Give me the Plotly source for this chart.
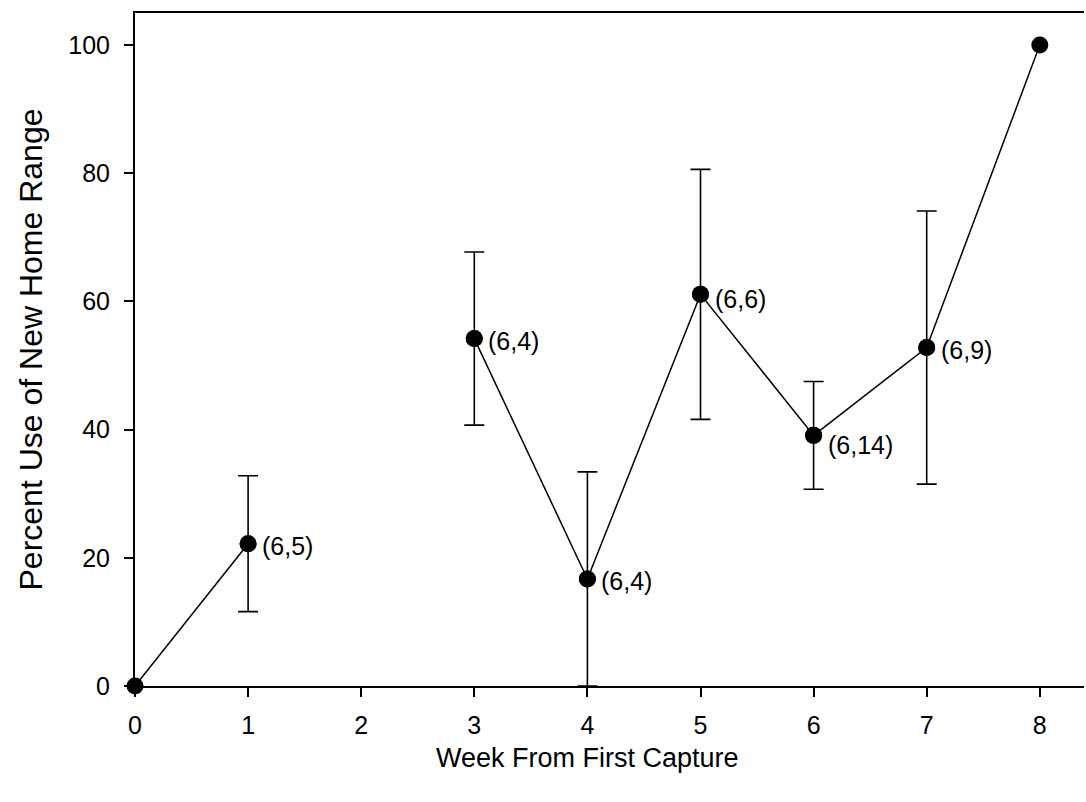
import plotly.graph_objects as go

weeks = [0, 1, 2, 3, 4, 5, 6, 7, 8]
percent_use = [0, 22.2, None, 54.2, 16.7, 61.1, 39.1, 52.8, 100]
error_half = [None, 10.6, None, 13.5, 16.7, 19.5, 8.4, 21.3, None]
point_labels = ["", "(6,5)", "", "(6,4)", "(6,4)", "(6,6)", "(6,14)", "(6,9)", ""]
label_yshift = [0, -2, 0, -2, -2, -5, -10, -2, 0]

FONT = "Liberation Sans, Arial, sans-serif"

W, H = 1086, 802
ml, mr, mt, mb = 135, 2, 13, 116
pw, ph = W - ml - mr, H - mt - mb

fig = go.Figure()

# error bars (only points that have them)
err_idx = [i for i, e in enumerate(error_half) if e is not None]
fig.add_trace(go.Scatter(
    x=[weeks[i] for i in err_idx],
    y=[percent_use[i] for i in err_idx],
    mode="markers",
    marker=dict(color="black", size=17, line=dict(width=0)),
    error_y=dict(type="data", array=[error_half[i] for i in err_idx], visible=True,
                 color="black", thickness=1.6, width=10),
    cliponaxis=False,
    showlegend=False,
))

fig.add_trace(go.Scatter(
    x=weeks, y=percent_use,
    mode="lines+markers",
    connectgaps=False,
    line=dict(color="black", width=1.5),
    marker=dict(color="black", size=17, line=dict(width=0)),
    cliponaxis=False,
    showlegend=False,
))

annotations = []
for xv, yv, lab, ys in zip(weeks, percent_use, point_labels, label_yshift):
    if lab and yv is not None:
        annotations.append(dict(
            x=xv, y=yv, xref="x", yref="y", text=lab, showarrow=False,
            xanchor="left", yanchor="middle", xshift=12, yshift=ys,
            font=dict(family=FONT, size=25, color="black"),
        ))

annotations.append(dict(
    x=4, y=-(758 - (H - mb)) / ph, xref="x", yref="paper",
    text="Week From First Capture",
    showarrow=False, xanchor="center", yanchor="middle",
    font=dict(family=FONT, size=27, color="black"),
))
annotations.append(dict(
    x=-(ml - 30) / pw, y=0.5, xref="paper", yref="paper",
    text="Percent Use of New Home Range",
    showarrow=False, textangle=-90, xanchor="center", yanchor="middle",
    font=dict(family=FONT, size=32, color="black"),
))

fig.update_layout(
    width=W, height=H,
    margin=dict(l=ml, r=mr, t=mt, b=mb, pad=0),
    plot_bgcolor="white", paper_bgcolor="white",
    font=dict(family=FONT, size=24, color="black"),
    annotations=annotations,
    xaxis=dict(
        range=[0, pw / 113.1],
        tickmode="array", tickvals=[0, 1, 2, 3, 4, 5, 6, 7, 8],
        ticks="outside", ticklen=9, tickwidth=1.5, tickcolor="black",
        showline=True, linecolor="black", linewidth=2, mirror=True,
        showgrid=False, zeroline=False,
        tickfont=dict(family=FONT, size=25, color="black"),
        ticklabelstandoff=7,
    ),
    yaxis=dict(
        range=[0, ph / 6.41],
        tickmode="array", tickvals=[0, 20, 40, 60, 80, 100],
        ticks="outside", ticklen=9, tickwidth=1.5, tickcolor="black",
        showline=True, linecolor="black", linewidth=2, mirror=False,
        showgrid=False, zeroline=False,
        tickfont=dict(family=FONT, size=25, color="black"),
        ticklabelstandoff=9,
    ),
)

fig.write_html("out.html")
